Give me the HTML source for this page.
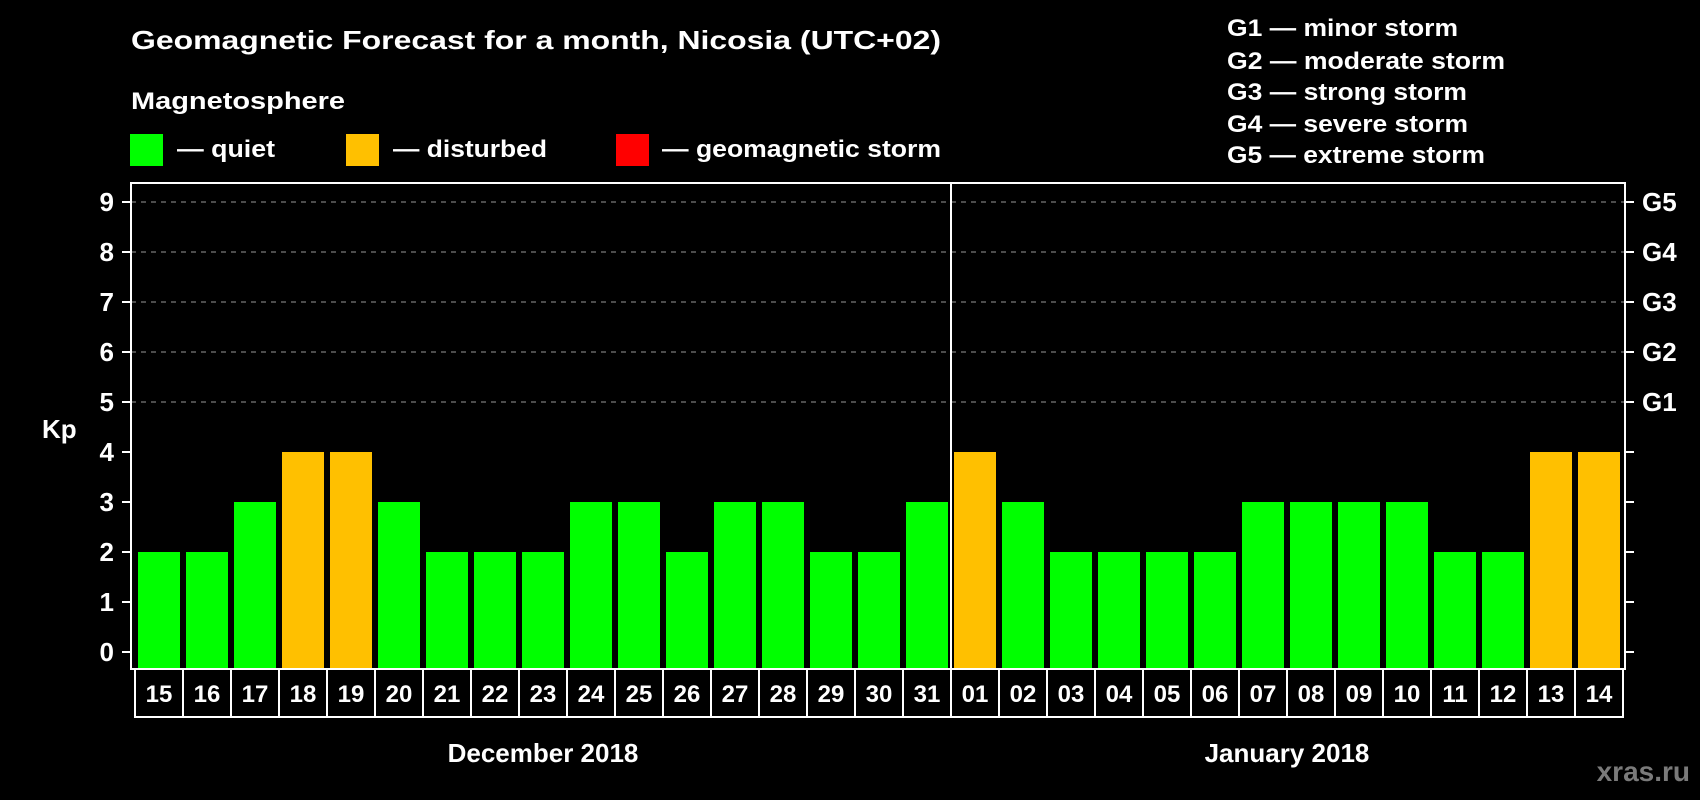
<!DOCTYPE html>
<html><head><meta charset="utf-8">
<style>
html,body{margin:0;padding:0;background:#000;}
svg{display:block;font-family:"Liberation Sans",Arial,sans-serif;font-weight:bold;}
</style></head>
<body>
<svg id="chart" width="1700" height="800" viewBox="0 0 1700 800" xmlns="http://www.w3.org/2000/svg">
<rect x="0" y="0" width="1700" height="800" fill="#000"/>
<text x="131" y="49" fill="#fff" font-size="26" textLength="810" lengthAdjust="spacingAndGlyphs">Geomagnetic Forecast for a month, Nicosia (UTC+02)</text>
<text x="131" y="109" fill="#fff" font-size="24" textLength="214" lengthAdjust="spacingAndGlyphs">Magnetosphere</text>
<g>
<rect x="130" y="134" width="33" height="32" fill="#00ff00"/>
<text x="177" y="157" fill="#fff" font-size="24" textLength="98" lengthAdjust="spacingAndGlyphs">— quiet</text></g>
<g>
<rect x="346" y="134" width="33" height="32" fill="#ffc000"/>
<text x="393" y="157" fill="#fff" font-size="24" textLength="154" lengthAdjust="spacingAndGlyphs">— disturbed</text></g>
<g>
<rect x="616" y="134" width="33" height="32" fill="#ff0000"/>
<text x="662" y="157" fill="#fff" font-size="24" textLength="279" lengthAdjust="spacingAndGlyphs">— geomagnetic storm</text></g>
<g fill="#fff" font-size="24">
<text x="1227" y="36" textLength="231" lengthAdjust="spacingAndGlyphs">G1 — minor storm</text>
<text x="1227" y="69" textLength="278" lengthAdjust="spacingAndGlyphs">G2 — moderate storm</text>
<text x="1227" y="100" textLength="240" lengthAdjust="spacingAndGlyphs">G3 — strong storm</text>
<text x="1227" y="132" textLength="241" lengthAdjust="spacingAndGlyphs">G4 — severe storm</text>
<text x="1227" y="163" textLength="258" lengthAdjust="spacingAndGlyphs">G5 — extreme storm</text>
</g>
<text x="42" y="438" fill="#fff" font-size="26">Kp</text>
<g id="grid"></g>
<g id="bars"></g>
<g id="axes"></g>
<text x="1690" y="781" fill="#7a7a7a" font-size="28" text-anchor="end">xras.ru</text>
</svg>
<script>
const decDays = ["15","16","17","18","19","20","21","22","23","24","25","26","27","28","29","30","31"];
const janDays = ["01","02","03","04","05","06","07","08","09","10","11","12","13","14"];
const decKp = [2,2,3,4,4,3,2,2,2,3,3,2,3,3,2,2,3];
const janKp = [4,3,2,2,2,2,3,3,3,3,2,2,4,4];
const yTicks = [0,1,2,3,4,5,6,7,8,9];
const gLabels = ["G1","G2","G3","G4","G5"];
const gLevels = [5,6,7,8,9];
const months = ["December 2018","January 2018"];

const NS="http://www.w3.org/2000/svg";
const days = decDays.concat(janDays);
const kp = decKp.concat(janKp);
const plotL=131, plotR=1625, plotT=183, plotB=669;
const y0=652, unit=50;
const yS = v => y0 - v*unit;
const slot0=135, pitch=48;
const xS = i => slot0 + i*pitch;
function mk(tag, attrs, parent){const e=document.createElementNS(NS,tag);for(const k in attrs)e.setAttribute(k,attrs[k]);parent.appendChild(e);return e;}
const grid=document.getElementById('grid'), bars=document.getElementById('bars'), axes=document.getElementById('axes');

// gridlines
gLevels.forEach(v=>{
  const l=mk('line',{x1:plotL,x2:plotR,y1:yS(v),y2:yS(v),stroke:'#999','stroke-width':1,'stroke-dasharray':'5,5'},grid);
  
  
});
// bars
kp.forEach((v,i)=>{
  const col = v>=5?'#ff0000':(v>=4?'#ffc000':'#00ff00');
  const r=mk('rect',{x:xS(i)+3,y:yS(v),width:42,height:plotB-yS(v),fill:col},bars);
  
  
});
// frame
const fr=mk('rect',{x:plotL,y:plotT,width:plotR-plotL,height:plotB-plotT,fill:'none',stroke:'#fff','stroke-width':2},axes);


const sep=mk('line',{x1:xS(decDays.length),x2:xS(decDays.length),y1:plotT,y2:plotB,stroke:'#fff','stroke-width':2},axes);


// y ticks
yTicks.forEach(v=>{
  mk('line',{x1:122,x2:plotL,y1:yS(v),y2:yS(v),stroke:'#fff','stroke-width':2},axes);
  mk('line',{x1:plotR,x2:plotR+9,y1:yS(v),y2:yS(v),stroke:'#fff','stroke-width':2},axes);
  const t=mk('text',{x:114,y:yS(v)+9,fill:'#fff','font-size':26,'text-anchor':'end'},axes);
  t.textContent=v;
  
  
});
gLabels.forEach((g,i)=>{
  const t=mk('text',{x:1642,y:yS(gLevels[i])+9,fill:'#fff','font-size':26},axes);
  t.textContent=g;
  
  
});
// day label boxes
const boxT=669, boxB=717;
days.forEach((d,i)=>{
  const b=mk('rect',{x:xS(i),y:boxT,width:pitch,height:boxB-boxT,fill:'#000',stroke:'#fff','stroke-width':2},axes);
  
  
  const t=mk('text',{x:xS(i)+pitch/2,y:702,fill:'#fff','font-size':24,'text-anchor':'middle'},axes);
  t.textContent=d;
  
  
});
// month labels
const m1=mk('text',{x:xS(0)+decDays.length*pitch/2,y:762,fill:'#fff','font-size':26,'text-anchor':'middle'},axes);
m1.textContent=months[0];


const m2=mk('text',{x:xS(decDays.length)+janDays.length*pitch/2,y:762,fill:'#fff','font-size':26,'text-anchor':'middle'},axes);
m2.textContent=months[1];


</script>
</body></html>
